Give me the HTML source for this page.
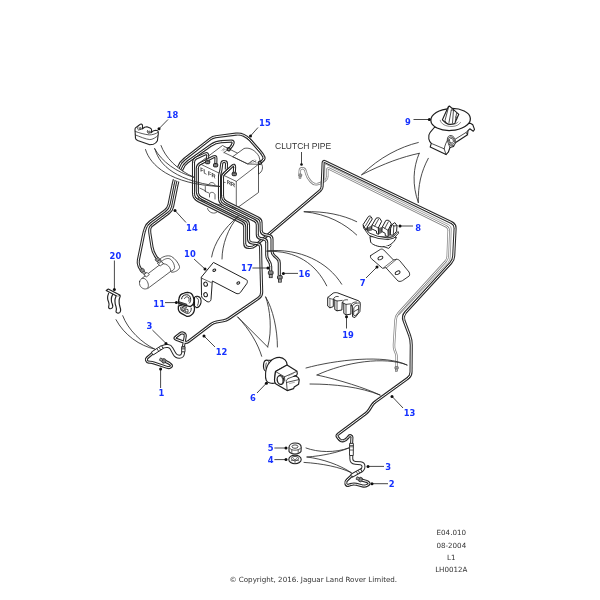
<!DOCTYPE html>
<html><head><meta charset="utf-8"><title>Brake pipes</title>
<style>
html,body{margin:0;padding:0;background:#fff}
svg{display:block;will-change:transform}
.n{font-family:"DejaVu Sans","Liberation Sans",sans-serif;font-weight:bold;font-size:8.35px;letter-spacing:0.12px;fill:#1430ff}
.f{font-family:"DejaVu Sans","Liberation Sans",sans-serif;font-size:7.14px;fill:#333}
.t{font-family:"Liberation Sans",sans-serif;font-size:5.6px;fill:#222;stroke:#222;stroke-width:0.12px}
.t2{font-family:"Liberation Sans",sans-serif;font-size:3.6px;fill:#444}
.c{font-family:"Liberation Sans",sans-serif;font-size:8.5px;fill:#333}
</style></head><body>
<svg width="600" height="600" viewBox="0 0 600 600">
<defs><filter id="sf" x="0" y="0" width="600" height="600" filterUnits="userSpaceOnUse"><feGaussianBlur stdDeviation="0.32"/></filter></defs>
<rect width="600" height="600" fill="#fff"/>
<g filter="url(#sf)">
<path d="M198.8 163.3 L222.5 145.5 L258.5 164 L258.5 192.5 L236.3 208.5 L198.8 200 Z" fill="#fff" stroke="#333" stroke-width="0.80" stroke-linecap="round" stroke-linejoin="round" />
<path d="M233 156.5 L244 148.5 C249 147 255.5 150 259 156.5 L260.3 161.5 L261.5 164 C263.5 167 262.5 172 258.5 174 L258.5 164.3 L248 164 Z" fill="#fff" stroke="#333" stroke-width="0.80" stroke-linecap="round" stroke-linejoin="round" />
<path d="M258.5 174 L258.5 164.3" fill="none" stroke="#333" stroke-width="0.75" stroke-linecap="round" stroke-linejoin="round" />
<path d="M224 152.5 L248 164 L252.5 160.5 L256 162.2" fill="none" stroke="#333" stroke-width="0.75" stroke-linecap="round" stroke-linejoin="round" />
<path d="M224 152.5 L227 150.3" fill="none" stroke="#333" stroke-width="0.75" stroke-linecap="round" stroke-linejoin="round" />
<path d="M198.8 163.3 L236.3 181.4 L258.5 164.3" fill="none" stroke="#333" stroke-width="0.75" stroke-linecap="round" stroke-linejoin="round" />
<path d="M236.3 181.4 L236.3 208.5" fill="none" stroke="#333" stroke-width="0.75" stroke-linecap="round" stroke-linejoin="round" />
<path d="M200 188.2 L205.3 190.7 M205.3 186.5 L205.3 191.5 M205.3 191.5 L209 193" fill="none" stroke="#333" stroke-width="0.75" stroke-linecap="round" stroke-linejoin="round" />
<path d="M209 184 C210 181.8 214 182 215 184.5" fill="none" stroke="#333" stroke-width="0.75" stroke-linecap="round" stroke-linejoin="round" />
<path d="M209.5 197 L209.5 194 C210.5 191.5 214 192 215 194.5 L215 199" fill="none" stroke="#333" stroke-width="0.75" stroke-linecap="round" stroke-linejoin="round" />
<path d="M207.5 208.5 C208.5 213 215 214.5 217 212" fill="none" stroke="#333" stroke-width="0.75" stroke-linecap="round" stroke-linejoin="round" />
<text class="t" transform="matrix(1,0.48,0,1,200.2,171.3)">FL FR</text>
<text class="t" transform="matrix(1,0.48,0,1,218.4,179.6)">RL RR</text>
<text class="t2" transform="matrix(0.87,-0.5,0.87,0.5,222.5,151.5)">MC1</text>
<text class="t2" transform="matrix(0.87,-0.5,0.87,0.5,250.3,164.3)">MC2</text>
<path d="M135.5 127.9 L139.3 125 C140.3 124.2 141 124 141.4 124.1 C142.2 124.3 142.5 125 142.5 125.6 L142.5 128.8 L144.6 127.3 L146.9 126.7 L150.1 127.9 C151.2 128.5 151.7 129.2 151.6 129.8 L151.3 132.6 L153 131.1 L155.7 130.2 C157 130.3 158 130.8 158.2 131.6 L158.3 133.8 L157.4 140.8 C156.5 142.5 155 143.8 153.3 144.3 L149.8 144.8 L137.6 140.5 C136.3 139.8 135.6 139 135.5 138.4 L135 129.7 C135 128.8 135.2 128.2 135.5 127.9 Z" fill="#fff" stroke="#222" stroke-width="1.10" stroke-linecap="round" stroke-linejoin="round" />
<path d="M135.2 131.4 C139 132.8 145 134.6 149.3 134.9 C152 135 156 133.8 158.1 132.3 M135.3 134.9 C139.5 136.5 146 139.3 149.8 139.6 C152.5 139.6 156 137.5 157.9 135.5" fill="none" stroke="#333" stroke-width="0.80" stroke-linecap="round" stroke-linejoin="round" />
<path d="M138 127 C137.3 128.3 137.5 129.3 138.5 130 L142.5 128.8 M147.5 130.5 C147 131.6 147.3 132.6 148.3 133.3 L151.3 132.6" fill="none" stroke="#222" stroke-width="0.80" stroke-linecap="round" stroke-linejoin="round" />
<ellipse cx="140.2" cy="128.3" rx="1.1" ry="0.8" fill="#999" stroke="#222" stroke-width="0.5"/><ellipse cx="149.3" cy="131.8" rx="1.1" ry="0.8" fill="#999" stroke="#222" stroke-width="0.5"/>
<path d="M160.5 258.5 C163 256.5 168 254.8 171.5 256.5 C175 258.5 178.5 263 179.5 266.5 C180 269 177 271 174.5 271.8 C172.5 272.5 171 272.2 170.5 271.5 L162 262 Z" fill="#fff" stroke="#333" stroke-width="0.80" stroke-linecap="round" stroke-linejoin="round" />
<path d="M162.5 260.6 C165 258.6 168.5 257.6 170.8 259.5 C173 261.5 174.5 264.5 174.6 267.5 C174.5 269.5 172.5 271 171 271.3" fill="none" stroke="#333" stroke-width="0.75" stroke-linecap="round" stroke-linejoin="round" />
<path d="M142 278.3 L160 264.6 C165 262 170.5 266 170.8 271.3 L148 288.3 Z" fill="#fff" stroke="#333" stroke-width="0.80" stroke-linecap="round" stroke-linejoin="round" />
<path d="M139.6 281.5 C140.3 278.3 143.5 277.3 145.8 279.5 C148.3 282 149.3 286.5 147.3 288.3 C145 290 141.3 288.3 140 285.5 C139.4 284 139.3 282.8 139.6 281.5 Z" fill="#fff" stroke="#333" stroke-width="0.80" stroke-linecap="round" stroke-linejoin="round" />
<path d="M144.3 274.5 L147 272.3 L149.3 274.6 L146.6 276.8 Z" fill="#fff" stroke="#333" stroke-width="0.80" stroke-linecap="round" stroke-linejoin="round" />
<path d="M157.5 262.8 L160.3 260.6 L163.3 263.6 L160.5 265.8 Z" fill="#fff" stroke="#333" stroke-width="0.80" stroke-linecap="round" stroke-linejoin="round" />
<path d="M106.2 290.5 L108.3 289.1 L120.2 295.3 L118 296.8 Z" fill="#fff" stroke="#222" stroke-width="1.15" stroke-linecap="round" stroke-linejoin="round" />
<path d="M108.6 293.4 C107.3 296.5 107.3 299.5 108.6 302 C109.6 304 109 305.8 108.6 307.2 C108.6 308.6 110.5 309.2 111.6 308.4 C113 307.4 113 305.8 112.3 304 C111 301 111 297.5 112.6 294.6" fill="#fff" stroke="#222" stroke-width="1.15" stroke-linecap="round" stroke-linejoin="round" />
<path d="M116 296.3 C114.6 299.5 114.8 303.5 116 306.5 C116.8 308.5 116.3 310.3 116 311.5 C116 313 118.3 313.6 119.6 312.6 C121 311.4 120.8 309.3 120 307 C118.8 303.5 118.8 299.5 120.2 296.3" fill="#fff" stroke="#222" stroke-width="1.15" stroke-linecap="round" stroke-linejoin="round" />
<path d="M213.8 262.6 L246.6 279.8 C247.6 280.5 247.6 282.5 246.8 283.6 L240.3 292.6 C239.3 293.8 237.3 294 236 293.3 L212.3 281 L211 299.5 C210.8 301.5 208.5 302.5 207 301.6 L202.6 298.3 C201.8 297.6 201.5 296.6 201.5 295.5 L201.3 277.6 Z" fill="#fff" stroke="#222" stroke-width="1.00" stroke-linecap="round" stroke-linejoin="round" />
<path d="M202.5 278.6 L211.3 282.6" fill="none" stroke="#333" stroke-width="0.75" stroke-linecap="round" stroke-linejoin="round" />
<path d="M201.3 277.6 L202.5 278.6" fill="none" stroke="#333" stroke-width="0.75" stroke-linecap="round" stroke-linejoin="round" />
<ellipse cx="214.3" cy="270.2" rx="1.5" ry="1.1" fill="#fff" stroke="#222" stroke-width="1.0" transform="rotate(-20 214.3 270.2)"/>
<ellipse cx="205.6" cy="284.2" rx="1.8" ry="2.1" fill="#fff" stroke="#222" stroke-width="1.0" transform="rotate(-20 205.6 284.2)"/>
<ellipse cx="205.6" cy="294.7" rx="1.8" ry="2.1" fill="#fff" stroke="#222" stroke-width="1.0" transform="rotate(-20 205.6 294.7)"/>
<ellipse cx="238.3" cy="283.0" rx="1.5" ry="1.1" fill="#fff" stroke="#222" stroke-width="1.0" transform="rotate(-20 238.3 283.0)"/>
<path d="M194.5 297.4 C195.5 296.5 196.8 296.2 197.7 296.4 C199.3 296.8 200.4 297.6 200.7 298.8 C201.2 300.3 201.2 301.8 200.9 303 C200.5 304.6 199.8 305.8 199 306.5 C198.3 307.2 197.3 307.6 196.5 307.6 L194.5 306.1 Z" fill="#fff" stroke="#1a1a1a" stroke-width="1.10" stroke-linecap="round" stroke-linejoin="round" />
<path d="M196.5 297.7 C198 298.3 198.6 299.6 198.5 300.8 C198.5 302.6 198.2 304.2 197.6 305.3" fill="none" stroke="#1a1a1a" stroke-width="0.80" stroke-linecap="round" stroke-linejoin="round" />
<path d="M178.4 306.1 C178.2 308 178.3 309.5 178.7 310.5 C179.3 311.8 180.2 312.8 181.3 313.4 L186.6 316.3 C188 316.6 189.6 316.3 190.7 315.5 C192.3 314.5 193.4 313.2 193.9 311.7 C194.4 310.3 194.6 309 194.5 307.6 L193.6 304.5 L186 303 Z" fill="#fff" stroke="#1a1a1a" stroke-width="1.30" stroke-linecap="round" stroke-linejoin="round" />
<path d="M180.75 307.2 C180.6 308.5 180.8 309.7 181.3 310.5 L186.6 313.4 C188 313.6 189.3 313.2 190.1 312.2 C190.9 311.2 191.3 309.8 191.25 308.2" fill="none" stroke="#1a1a1a" stroke-width="0.90" stroke-linecap="round" stroke-linejoin="round" />
<path d="M182 307.3 L184.2 308.1 L184.2 310.9 L182 310 Z M185.2 308.7 L188 309.6 L188 312.3 L185.2 311.6 Z" fill="#fff" stroke="#1a1a1a" stroke-width="0.8"/>
<path d="M179 298.5 C179.3 297 179.9 295.7 180.75 294.75 C181.6 293.9 182.6 293.4 183.7 293.3 C185 292.6 186.5 292.3 187.75 292.3 C189 292.4 190.3 292.8 191.25 293.6 C192.3 294.5 193 295.7 193.3 297.1 C193.8 298.5 194 300 193.9 301.2 C193.8 302.5 193.4 303.8 192.7 304.8 L190.5 306.6 L185 305.4 L178.6 303.2 C178.5 301.5 178.6 300 179 298.5 Z" fill="#fff" stroke="#1a1a1a" stroke-width="1.30" stroke-linecap="round" stroke-linejoin="round" />
<path d="M181.6 298.8 C181.8 297.6 182.3 296.6 183.1 295.9 C184.1 295.1 185.4 294.7 186.6 294.75 C187.8 294.8 188.8 295.2 189.5 295.9 C190.3 296.8 190.7 298 190.7 299.4 C190.7 300.8 190.3 302 189.5 303" fill="none" stroke="#1a1a1a" stroke-width="1.00" stroke-linecap="round" stroke-linejoin="round" />
<path d="M184.5 298.6 C184.9 297.6 185.7 297 186.6 296.8 C187.5 296.8 188.3 297.1 188.9 297.7 C189.2 298.9 189.2 300.1 188.9 301.2" fill="none" stroke="#1a1a1a" stroke-width="0.80" stroke-linecap="round" stroke-linejoin="round" />
<path d="M178.4 301.5 L186.8 304.2 L186.8 306 L178.7 303.3 Z" fill="#555" stroke="#1a1a1a" stroke-width="0.8" stroke-linejoin="round"/>
<path d="M178.6 304.8 L186.4 307.4" fill="none" stroke="#1a1a1a" stroke-width="0.90" stroke-linecap="round" stroke-linejoin="round" />
<path d="M263.6 364 C264 361.5 265.5 360 267.3 360.2 L272.8 360.3 L273 371 L267.2 371.8 C265.3 371.8 263.6 369.5 263.5 366.5 Z" fill="#fff" stroke="#1f1f1f" stroke-width="1.20" stroke-linecap="round" stroke-linejoin="round" />
<path d="M267.3 360.2 C269 361.5 269.6 364 269.5 366.3 C269.4 368.5 268.6 370.8 267.2 371.8 M266.3 363 C265.6 364.5 265.6 367.5 266.3 369" fill="none" stroke="#1f1f1f" stroke-width="0.80" stroke-linecap="round" stroke-linejoin="round" />
<path d="M265.6 373 C266.3 364 272 357.3 279.5 357.4 C284 357.6 287.2 361.3 287.2 365 L275.5 371.5 L274.5 380 L275.5 383 C272 383.8 267.5 383.2 266.3 380.5 C265.4 378.5 265.4 375.5 265.6 373 Z" fill="#fff" stroke="#1f1f1f" stroke-width="1.10" stroke-linecap="round" stroke-linejoin="round" />
<path d="M275.5 371.5 L287 365 L297 371.3 C297.5 373 297.3 374.5 296.5 375.3 L293.5 376.5 L295.5 376 C297 376.5 299 378.5 299.2 380 L298.6 384.2 L294.2 387 L293.6 388.6 L287.2 390.6 L276 384 C275 383 274.3 381 274.5 379.5 Z" fill="#fff" stroke="#1f1f1f" stroke-width="1.20" stroke-linecap="round" stroke-linejoin="round" />
<path d="M275.5 371.5 L284.5 376.8 L296.5 371.5 M284.5 376.8 L284.8 380.5 M288 378.6 L296.5 375.3 M288 378.6 C286.5 379.5 286 381 286.5 382.5 L287.2 390.6 M286.5 382.5 L298.8 379.6" fill="none" stroke="#1f1f1f" stroke-width="0.80" stroke-linecap="round" stroke-linejoin="round" />
<path d="M288.5 375.8 L293.5 373.6 M289.5 383.6 L294.5 382.3" fill="none" stroke="#777" stroke-width="0.60" stroke-linecap="round" stroke-linejoin="round" />
<ellipse cx="280.5" cy="380" rx="3.3" ry="4.4" fill="#fff" stroke="#1f1f1f" stroke-width="1.3" transform="rotate(-12 280.5 380)"/>
<path d="M281.3 376.6 C283 378 283.5 381.5 282.3 383.6" fill="none" stroke="#1f1f1f" stroke-width="0.80" stroke-linecap="round" stroke-linejoin="round" />
<path d="M328 297.3 L333.2 293.1 C334.5 292.5 336 292.5 337.4 292.8 L358 300.6 C359.6 301.3 360.4 302.3 360.3 303.6 L359.9 311.5 L355 317.5 L352.6 316.8 L352.3 306 L350.9 305.3 L350.9 314.1 L346 314.9 L343.8 313.4 L343.8 303.3 L342.2 302.6 L341.9 310 L337 310.8 L334.8 309.6 L334.8 300 L333.3 299.3 L333.3 306.6 L329.9 307.8 L328 306.3 Z" fill="#fff" stroke="#222" stroke-width="1.00" stroke-linecap="round" stroke-linejoin="round" />
<path d="M329.9 298.6 L329.9 307.8 M328 297.3 L329.9 298.6 L333.3 299.3" fill="none" stroke="#333" stroke-width="0.70" stroke-linecap="round" stroke-linejoin="round" />
<path d="M333.3 299.3 C334 296.8 336.3 296 338.3 296.5 M334.8 300 L337 301 L342.2 300.4 M337 301 L337 310.8 M342.2 302.6 C343 300 345.5 299.3 347.6 299.8 M343.8 303.3 L346 304.4 L350.9 303.8 M346 304.4 L346 314.9 M350.9 305.3 C351.6 302.8 354 301.8 356.5 302" fill="none" stroke="#222" stroke-width="0.80" stroke-linecap="round" stroke-linejoin="round" />
<path d="M352.3 306 C353.3 303.5 356.5 302.8 359.5 303 M354 307.6 C355 305.8 357 305 358.6 305.3 L358.3 312.3 L355.2 315.8 L354 315.3 Z M354 311.6 L358.5 309" fill="none" stroke="#222" stroke-width="0.80" stroke-linecap="round" stroke-linejoin="round" />
<path d="M370 237 L370.7 242.2 C372 244.5 378 247 383 246.8 C389 246.6 394 243 396.3 237.7 Z" fill="#fff" stroke="#1f1f1f" stroke-width="1.00" stroke-linecap="round" stroke-linejoin="round" />
<path d="M383.6 246.6 L388.7 248.4 L391 245.8" fill="#fff" stroke="#1f1f1f" stroke-width="0.90" stroke-linecap="round" stroke-linejoin="round" />
<path d="M363.4 225.5 L369.2 233 L377.5 236.2 L388 238 L393.5 236.5 L398 231.5 L398.6 233.2 L394 238 L388 239.6 L378 238.4 L369 235.4 L363.8 228.3 Z" fill="#fff" stroke="#1f1f1f" stroke-width="0.90" stroke-linecap="round" stroke-linejoin="round" />
<path d="M366 228.5 L372.3 225 L372 230.5 L367.8 231.5 Z M378.2 228 L382.4 226.9 L382.2 232.5 L378.6 234.5 Z M388 230.3 L392.1 224.6 L390.4 235.2 L388.2 236.6 Z" fill="#6a6a6a" stroke="none"/>
<path d="M363.3 224.3 L368.5 216.4 C369.5 215.8 370.5 216 371.1 216.7 L372.3 219 L367.4 226.9 L366.2 229.8 Z" fill="#fff" stroke="#1f1f1f" stroke-width="1.00" stroke-linecap="round" stroke-linejoin="round" />
<path d="M365.6 225.6 L370.3 217.6 M367.4 226.9 L367.8 231" fill="none" stroke="#1f1f1f" stroke-width="0.80" stroke-linecap="round" stroke-linejoin="round" />
<path d="M372.2 225 L376 218.3 C377.5 217.6 378.8 217.7 379.8 218.3 L381.6 221.3 L378.3 228 L378.6 234.3 L376.7 233.6 L376.4 231 L372 229 Z" fill="#fff" stroke="#1f1f1f" stroke-width="1.00" stroke-linecap="round" stroke-linejoin="round" />
<path d="M372.2 225 L378.3 228 M374.6 226.2 L378.5 219.3" fill="none" stroke="#1f1f1f" stroke-width="0.80" stroke-linecap="round" stroke-linejoin="round" />
<path d="M382.4 226.9 L385.8 220.5 C387.3 220 388.6 220.2 389.5 220.9 L391.4 223.9 L388 230.3 L388.2 236.5 L385.3 235.8 L385.2 233.3 L382.2 231.6 Z" fill="#fff" stroke="#1f1f1f" stroke-width="1.00" stroke-linecap="round" stroke-linejoin="round" />
<path d="M382.4 226.9 L388 230.3 M384.8 228.3 L388.3 221.8" fill="none" stroke="#1f1f1f" stroke-width="0.80" stroke-linecap="round" stroke-linejoin="round" />
<path d="M392.1 224.6 L394.8 222.6 L397 225.6 L396.6 231.2 L393.3 235.2 L390.3 235 L390.6 229 Z" fill="#fff" stroke="#1f1f1f" stroke-width="1.00" stroke-linecap="round" stroke-linejoin="round" />
<path d="M393.8 226 L393.3 235.2 M393.8 226 L392.1 224.6 M393.8 226 L397 225.6" fill="none" stroke="#1f1f1f" stroke-width="0.80" stroke-linecap="round" stroke-linejoin="round" />
<path d="M370.7 255.5 L380.5 249.3 C381.8 248.8 383 249.2 383.8 250 L393.5 260 L396.5 259.3 C398 259.3 399.3 260 400 261 L409 272 C409.8 273.5 409.8 275 409.2 276 L402.5 280.6 C401 281.6 399 281.6 398 281 L385.8 267.6 L382.5 268.3 L371.3 258.6 C370.3 257.6 370.2 256.3 370.7 255.5 Z" fill="#fff" stroke="#222" stroke-width="0.90" stroke-linecap="round" stroke-linejoin="round" />
<path d="M393.5 260 L383.8 267.6 M396.5 259.3 L386.2 268" fill="none" stroke="#333" stroke-width="0.70" stroke-linecap="round" stroke-linejoin="round" />
<ellipse cx="380.4" cy="258" rx="2.6" ry="1.5" fill="#fff" stroke="#222" stroke-width="0.9" transform="rotate(-28 380.4 258)"/>
<ellipse cx="397.6" cy="272.7" rx="2.6" ry="1.5" fill="#fff" stroke="#222" stroke-width="0.9" transform="rotate(-28 397.6 272.7)"/>
<path d="M434.3 127.5 L430.2 132.3 C428.6 134.5 428.3 137 428.8 138.8 C429.3 141 430.3 142.5 431.3 143.4 L430.2 147 L446 154.6 L448.3 152.2 L450 147.5 L453.5 146.4 L455.3 142.8 L467.5 134.8 L468 130.6 L469.8 128.8 L473.3 131.2 L474.5 129.4 L472.8 124.8 L470.4 123.2 Z" fill="#fff" stroke="#1f1f1f" stroke-width="1.10" stroke-linecap="round" stroke-linejoin="round" />
<path d="M431.3 143.4 L444.2 148.8 L446 154.6 M444.2 148.8 C445 145 446.5 141 449 138 M450 147.5 L448.5 144 M467.5 134.8 L466 132.5 L468 130.6 M466 132.5 L455.5 139" fill="none" stroke="#222" stroke-width="0.80" stroke-linecap="round" stroke-linejoin="round" />
<ellipse cx="451.4" cy="140.6" rx="3.9" ry="5.3" fill="#fff" stroke="#222" stroke-width="0.7" transform="rotate(-20 451.4 140.6)"/>
<ellipse cx="451.4" cy="140.6" rx="2.9" ry="3.9" fill="#fff" stroke="#222" stroke-width="0.7" transform="rotate(-20 451.4 140.6)"/>
<ellipse cx="451.4" cy="140.6" rx="1.9" ry="2.5" fill="#fff" stroke="#222" stroke-width="0.7" transform="rotate(-20 451.4 140.6)"/>
<ellipse cx="450.6" cy="119.5" rx="19.8" ry="11" fill="#fff" stroke="#1f1f1f" stroke-width="1.25" transform="rotate(-3 450.6 119.5)"/>
<path d="M440.2 120.3 C441 124 445.5 126.5 452 126.5 C456.5 126.3 459.5 124.5 460.5 122.5 M443 120.6 C444 123 447.5 124.6 452 124.5 C455 124.3 457 123.3 458 122" fill="none" stroke="#333" stroke-width="0.60" stroke-linecap="round" stroke-linejoin="round" />
<path d="M442.4 119.8 L448.3 106.8 L449.4 106 L453.5 109.6 L458.8 114.3 L457 118.3 L454.7 123.6 C452 124.5 448 124.3 446.5 123.3 Z" fill="#fff" stroke="#1f1f1f" stroke-width="1.10" stroke-linecap="round" stroke-linejoin="round" />
<path d="M448.5 107.3 L445 120.5 L446.5 123.3 M451.3 110 L449 122.5 M453.5 110 L452.5 123 M456.5 113.5 L455.3 121.5 M451.3 110 L453.5 110 M457 118.3 L455.5 117" fill="none" stroke="#222" stroke-width="0.80" stroke-linecap="round" stroke-linejoin="round" />
<path d="M289 447.5 C289 444.5 292 443 295 443 C298.5 443 301.2 444.5 301.2 447.5 L301 451.5 C300 453 297.5 454 295 454 C292.5 454 290 453 289 451.5 Z" fill="#fff" stroke="#222" stroke-width="1.10" stroke-linecap="round" stroke-linejoin="round" />
<path d="M289.2 447.8 C290.5 449.6 292.5 450.2 295 450.2 C297.5 450.2 299.8 449.6 301 447.8 M291.8 449.8 L291.8 453.3 M298.2 449.8 L298.2 453.3" fill="none" stroke="#333" stroke-width="0.80" stroke-linecap="round" stroke-linejoin="round" />
<ellipse cx="295" cy="446.6" rx="3" ry="1.7" fill="#fff" stroke="#222" stroke-width="0.8"/>
<ellipse cx="295" cy="459.4" rx="6.2" ry="4.3" fill="#fff" stroke="#222" stroke-width="1.1"/>
<ellipse cx="295" cy="458.6" rx="3.6" ry="2.2" fill="#fff" stroke="#222" stroke-width="0.8"/>
<path d="M293.3 458.6 a1.7 1 0 1 0 3.4 0 M291 461 L292.5 460 M299 461 L297.5 460 M295 462.8 L295 461.2" fill="none" stroke="#333" stroke-width="0.70" stroke-linecap="round" stroke-linejoin="round" />
<path d="M299.60 174.00 L299.86 170.30 Q300.00 168.30 302.00 168.30 L302.40 168.30 Q304.80 168.30 305.44 170.61 L306.43 174.15 Q307.50 178.00 310.22 180.93 L311.36 182.16 Q314.00 185.00 317.75 184.00 L318.60 183.77 Q321.50 183.00 323.97 181.30 L325.24 180.42 Q327.30 179.00 327.30 176.50 L327.30 169.79 Q327.30 167.79 329.09 168.67 L446.09 226.26 Q448.78 227.59 448.67 230.59 L447.72 256.18 Q447.61 259.17 445.59 261.39 L398.49 313.04 Q395.80 316.00 395.55 319.99 L393.99 345.01 Q393.80 348.00 394.91 350.79 L395.86 353.14 Q396.60 355.00 396.60 357.00 L396.60 367.00" fill="none" stroke="#858585" stroke-width="2.50" stroke-linecap="butt" stroke-linejoin="round"/>
<path d="M299.60 174.00 L299.86 170.30 Q300.00 168.30 302.00 168.30 L302.40 168.30 Q304.80 168.30 305.44 170.61 L306.43 174.15 Q307.50 178.00 310.22 180.93 L311.36 182.16 Q314.00 185.00 317.75 184.00 L318.60 183.77 Q321.50 183.00 323.97 181.30 L325.24 180.42 Q327.30 179.00 327.30 176.50 L327.30 169.79 Q327.30 167.79 329.09 168.67 L446.09 226.26 Q448.78 227.59 448.67 230.59 L447.72 256.18 Q447.61 259.17 445.59 261.39 L398.49 313.04 Q395.80 316.00 395.55 319.99 L393.99 345.01 Q393.80 348.00 394.91 350.79 L395.86 353.14 Q396.60 355.00 396.60 357.00 L396.60 367.00" fill="none" stroke="#fff" stroke-width="1.00" stroke-linecap="butt" stroke-linejoin="round"/>
<path d="M324.75 179.00 L324.75 165.69 Q324.75 163.69 326.54 164.57 L448.70 224.71 Q451.39 226.03 451.28 229.03 L450.24 257.22 Q450.12 260.21 448.08 262.41 L399.50 314.50" fill="none" stroke="#858585" stroke-width="0.75" stroke-linecap="round" stroke-linejoin="round" />
<path d="M260.00 163.00 L262.92 160.45 Q264.80 158.80 263.63 156.59 L263.40 156.15 Q262.00 153.50 260.02 151.25 L250.22 140.09 Q247.50 137.00 243.75 135.30 L243.75 135.30 Q240.00 133.60 235.92 134.12 L215.78 136.68 Q212.80 137.06 210.43 138.90 L184.30 159.24 Q180.35 162.31 178.68 167.02 L175.25 176.71 Q173.92 180.48 173.12 184.40 L169.04 204.46 Q168.24 208.38 165.03 210.77 L149.90 222.03 Q146.88 224.27 145.54 227.79 L145.54 227.79 Q144.20 231.30 143.46 234.99 L138.39 260.10 Q137.80 263.00 138.90 265.75 L139.26 266.64 Q140.00 268.50 141.41 269.91 L143.00 271.50" fill="none" stroke="#2a2a2a" stroke-width="3.10" stroke-linecap="butt" stroke-linejoin="round"/>
<path d="M260.00 163.00 L262.92 160.45 Q264.80 158.80 263.63 156.59 L263.40 156.15 Q262.00 153.50 260.02 151.25 L250.22 140.09 Q247.50 137.00 243.75 135.30 L243.75 135.30 Q240.00 133.60 235.92 134.12 L215.78 136.68 Q212.80 137.06 210.43 138.90 L184.30 159.24 Q180.35 162.31 178.68 167.02 L175.25 176.71 Q173.92 180.48 173.12 184.40 L169.04 204.46 Q168.24 208.38 165.03 210.77 L149.90 222.03 Q146.88 224.27 145.54 227.79 L145.54 227.79 Q144.20 231.30 143.46 234.99 L138.39 260.10 Q137.80 263.00 138.90 265.75 L139.26 266.64 Q140.00 268.50 141.41 269.91 L143.00 271.50" fill="none" stroke="#fff" stroke-width="1.00" stroke-linecap="butt" stroke-linejoin="round"/>
<path d="M229.00 149.30 L230.74 147.29 Q232.30 145.50 233.05 143.25 L233.05 143.25 Q233.80 141.00 231.43 141.13 L221.49 141.67 Q215.50 142.00 210.61 145.48 L187.72 161.79 Q183.65 164.69 181.98 169.40 L179.02 177.75 Q177.68 181.52 176.89 185.44 L172.56 206.70 Q171.76 210.62 168.55 213.01 L151.85 225.44 Q150.12 226.73 149.81 228.86 L149.81 228.86 Q149.50 231.00 149.84 233.13 L152.02 247.06 Q152.80 252.00 155.58 256.15 L158.50 260.50" fill="none" stroke="#2a2a2a" stroke-width="3.10" stroke-linecap="butt" stroke-linejoin="round"/>
<path d="M229.00 149.30 L230.74 147.29 Q232.30 145.50 233.05 143.25 L233.05 143.25 Q233.80 141.00 231.43 141.13 L221.49 141.67 Q215.50 142.00 210.61 145.48 L187.72 161.79 Q183.65 164.69 181.98 169.40 L179.02 177.75 Q177.68 181.52 176.89 185.44 L172.56 206.70 Q171.76 210.62 168.55 213.01 L151.85 225.44 Q150.12 226.73 149.81 228.86 L149.81 228.86 Q149.50 231.00 149.84 233.13 L152.02 247.06 Q152.80 252.00 155.58 256.15 L158.50 260.50" fill="none" stroke="#fff" stroke-width="1.00" stroke-linecap="butt" stroke-linejoin="round"/>
<g transform="translate(141.30 269.30) rotate(52.0) scale(0.75)"><rect x="0" y="-2.6" width="4" height="5.2" rx="1" fill="#ccc" stroke="#222" stroke-width="1"/><path d="M1.3 -2.6V2.6M2.7 -2.6V2.6" stroke="#222" stroke-width="0.6"/><rect x="4" y="-1.6" width="3.4" height="3.2" fill="#fff" stroke="#222" stroke-width="0.9"/><path d="M5.2 -1.6V1.6M6.3 -1.6V1.6" stroke="#222" stroke-width="0.5"/></g>
<g transform="translate(156.50 258.30) rotate(50.0) scale(0.75)"><rect x="0" y="-2.6" width="4" height="5.2" rx="1" fill="#ccc" stroke="#222" stroke-width="1"/><path d="M1.3 -2.6V2.6M2.7 -2.6V2.6" stroke="#222" stroke-width="0.6"/><rect x="4" y="-1.6" width="3.4" height="3.2" fill="#fff" stroke="#222" stroke-width="0.9"/><path d="M5.2 -1.6V1.6M6.3 -1.6V1.6" stroke="#222" stroke-width="0.5"/></g>
<path d="M207.60 161.50 L207.67 155.30 Q207.70 152.80 205.43 153.84 L196.23 158.05 Q193.50 159.30 193.50 162.30 L193.50 193.25 Q193.50 198.25 197.97 200.49 L242.02 222.51 Q244.70 223.85 244.70 226.85 L244.70 243.50 Q244.70 247.50 248.70 247.50 L250.00 247.50 Q253.00 247.50 255.29 245.56 L320.09 190.62 Q322.00 189.00 322.11 186.50 L323.11 162.80 Q323.20 160.80 325.00 161.67 L451.70 222.66 Q455.30 224.40 455.10 228.39 L453.70 256.01 Q453.50 260.00 450.80 262.95 L405.67 312.31 Q402.30 316.00 404.06 320.68 L409.54 335.32 Q411.30 340.00 411.26 345.00 L411.03 372.00 Q411.00 376.00 407.76 378.35 L375.32 401.83 Q373.30 403.30 371.96 405.41 L369.14 409.89 Q367.80 412.00 365.80 413.50 L337.96 434.28 Q336.20 435.60 337.62 437.28 L339.39 439.39 Q341.00 441.30 343.42 440.67 L343.58 440.63 Q346.00 440.00 347.54 438.03 L348.82 436.40 Q349.60 435.40 350.80 435.80 L350.80 435.80 Q352.00 436.20 351.93 437.46 L351.60 443.50" fill="none" stroke="#2a2a2a" stroke-width="3.10" stroke-linecap="butt" stroke-linejoin="round"/>
<path d="M207.60 161.50 L207.67 155.30 Q207.70 152.80 205.43 153.84 L196.23 158.05 Q193.50 159.30 193.50 162.30 L193.50 193.25 Q193.50 198.25 197.97 200.49 L242.02 222.51 Q244.70 223.85 244.70 226.85 L244.70 243.50 Q244.70 247.50 248.70 247.50 L250.00 247.50 Q253.00 247.50 255.29 245.56 L320.09 190.62 Q322.00 189.00 322.11 186.50 L323.11 162.80 Q323.20 160.80 325.00 161.67 L451.70 222.66 Q455.30 224.40 455.10 228.39 L453.70 256.01 Q453.50 260.00 450.80 262.95 L405.67 312.31 Q402.30 316.00 404.06 320.68 L409.54 335.32 Q411.30 340.00 411.26 345.00 L411.03 372.00 Q411.00 376.00 407.76 378.35 L375.32 401.83 Q373.30 403.30 371.96 405.41 L369.14 409.89 Q367.80 412.00 365.80 413.50 L337.96 434.28 Q336.20 435.60 337.62 437.28 L339.39 439.39 Q341.00 441.30 343.42 440.67 L343.58 440.63 Q346.00 440.00 347.54 438.03 L348.82 436.40 Q349.60 435.40 350.80 435.80 L350.80 435.80 Q352.00 436.20 351.93 437.46 L351.60 443.50" fill="none" stroke="#fff" stroke-width="1.00" stroke-linecap="butt" stroke-linejoin="round"/>
<path d="M215.80 164.00 L215.93 158.50 Q216.00 155.50 213.34 156.88 L199.96 163.82 Q197.30 165.20 197.30 168.20 L197.30 191.00 Q197.30 196.00 201.77 198.24 L245.82 220.26 Q248.50 221.60 248.50 224.60 L248.50 239.00 Q248.50 242.50 251.97 242.93 L257.52 243.63 Q260.50 244.00 260.56 247.00 L260.84 261.00 Q260.90 264.00 260.98 267.00 L261.69 292.00 Q261.80 296.00 258.50 298.26 L228.78 318.61 Q226.30 320.30 223.34 320.81 L216.46 321.99 Q213.50 322.50 211.11 324.31 L188.49 341.49 Q186.50 343.00 184.14 342.17 L176.16 339.33 Q173.80 338.50 175.79 336.99 L180.36 333.54 Q182.00 332.30 183.80 333.30 L183.80 333.30 Q185.60 334.30 185.24 336.33 L183.40 346.80" fill="none" stroke="#2a2a2a" stroke-width="3.10" stroke-linecap="butt" stroke-linejoin="round"/>
<path d="M215.80 164.00 L215.93 158.50 Q216.00 155.50 213.34 156.88 L199.96 163.82 Q197.30 165.20 197.30 168.20 L197.30 191.00 Q197.30 196.00 201.77 198.24 L245.82 220.26 Q248.50 221.60 248.50 224.60 L248.50 239.00 Q248.50 242.50 251.97 242.93 L257.52 243.63 Q260.50 244.00 260.56 247.00 L260.84 261.00 Q260.90 264.00 260.98 267.00 L261.69 292.00 Q261.80 296.00 258.50 298.26 L228.78 318.61 Q226.30 320.30 223.34 320.81 L216.46 321.99 Q213.50 322.50 211.11 324.31 L188.49 341.49 Q186.50 343.00 184.14 342.17 L176.16 339.33 Q173.80 338.50 175.79 336.99 L180.36 333.54 Q182.00 332.30 183.80 333.30 L183.80 333.30 Q185.60 334.30 185.24 336.33 L183.40 346.80" fill="none" stroke="#fff" stroke-width="1.00" stroke-linecap="butt" stroke-linejoin="round"/>
<path d="M226.30 169.50 L226.52 163.80 Q226.60 161.60 224.40 161.46 L224.20 161.44 Q222.00 161.30 221.73 163.48 L221.05 169.02 Q220.80 171.00 220.18 172.90 L220.12 173.10 Q219.50 175.00 219.50 177.00 L219.50 197.95 Q219.50 202.95 223.97 205.19 L254.62 220.51 Q257.30 221.85 257.30 224.85 L257.30 234.50 Q257.30 238.00 260.76 238.55 L263.74 239.03 Q266.70 239.50 266.70 242.50 L266.70 255.00 Q266.70 258.00 268.46 260.43 L268.94 261.07 Q270.70 263.50 270.70 266.50 L270.70 271.00" fill="none" stroke="#2a2a2a" stroke-width="3.10" stroke-linecap="butt" stroke-linejoin="round"/>
<path d="M226.30 169.50 L226.52 163.80 Q226.60 161.60 224.40 161.46 L224.20 161.44 Q222.00 161.30 221.73 163.48 L221.05 169.02 Q220.80 171.00 220.18 172.90 L220.12 173.10 Q219.50 175.00 219.50 177.00 L219.50 197.95 Q219.50 202.95 223.97 205.19 L254.62 220.51 Q257.30 221.85 257.30 224.85 L257.30 234.50 Q257.30 238.00 260.76 238.55 L263.74 239.03 Q266.70 239.50 266.70 242.50 L266.70 255.00 Q266.70 258.00 268.46 260.43 L268.94 261.07 Q270.70 263.50 270.70 266.50 L270.70 271.00" fill="none" stroke="#fff" stroke-width="1.00" stroke-linecap="butt" stroke-linejoin="round"/>
<path d="M234.30 173.00 L234.61 167.29 Q234.80 163.80 232.22 166.17 L223.97 173.75 Q222.50 175.10 222.50 177.10 L222.50 195.25 Q222.50 200.25 226.97 202.49 L258.32 218.16 Q261.00 219.50 261.06 222.50 L261.23 230.50 Q261.30 234.00 264.74 234.64 L269.05 235.45 Q272.00 236.00 272.00 239.00 L272.00 251.00 Q272.00 254.00 274.32 255.90 L276.98 258.10 Q279.30 260.00 279.30 263.00 L279.30 275.00" fill="none" stroke="#2a2a2a" stroke-width="3.10" stroke-linecap="butt" stroke-linejoin="round"/>
<path d="M234.30 173.00 L234.61 167.29 Q234.80 163.80 232.22 166.17 L223.97 173.75 Q222.50 175.10 222.50 177.10 L222.50 195.25 Q222.50 200.25 226.97 202.49 L258.32 218.16 Q261.00 219.50 261.06 222.50 L261.23 230.50 Q261.30 234.00 264.74 234.64 L269.05 235.45 Q272.00 236.00 272.00 239.00 L272.00 251.00 Q272.00 254.00 274.32 255.90 L276.98 258.10 Q279.30 260.00 279.30 263.00 L279.30 275.00" fill="none" stroke="#fff" stroke-width="1.00" stroke-linecap="butt" stroke-linejoin="round"/>
<path d="M183.30 351.50 L182.99 353.58 Q182.50 356.80 179.25 356.70 L179.25 356.70 Q176.00 356.60 174.43 353.76 L171.47 348.41 Q170.30 346.30 167.90 346.05 L167.49 346.01 Q165.50 345.80 163.64 346.54 L162.00 347.20" fill="none" stroke="#2a2a2a" stroke-width="3.90" stroke-linecap="butt" stroke-linejoin="round"/>
<path d="M183.30 351.50 L182.99 353.58 Q182.50 356.80 179.25 356.70 L179.25 356.70 Q176.00 356.60 174.43 353.76 L171.47 348.41 Q170.30 346.30 167.90 346.05 L167.49 346.01 Q165.50 345.80 163.64 346.54 L162.00 347.20" fill="none" stroke="#fff" stroke-width="1.90" stroke-linecap="butt" stroke-linejoin="round"/>
<g transform="translate(183.40 346.60) rotate(91.1)"><rect x="0" y="-1.70" width="5.20" height="3.40" fill="#fff" stroke="#222" stroke-width="0.9"/><path d="M1.30 -1.70V1.70" stroke="#222" stroke-width="0.7"/><path d="M2.34 -1.70V1.70" stroke="#222" stroke-width="0.7"/></g>
<g transform="translate(162.30 347.00) rotate(147.0)"><rect x="0" y="-1.70" width="11.93" height="3.40" fill="#fff" stroke="#222" stroke-width="0.9"/><path d="M2.98 -1.70V1.70" stroke="#222" stroke-width="0.7"/><path d="M5.37 -1.70V1.70" stroke="#222" stroke-width="0.7"/></g>
<path d="M152.50 353.40 L147.29 357.73 Q146.00 358.80 146.50 360.40 L146.50 360.40 Q147.00 362.00 148.67 362.10 L150.00 362.18 Q152.00 362.30 153.90 362.94 L167.17 367.39 Q169.00 368.00 170.65 367.00 L170.65 367.00 Q172.30 366.00 170.87 364.70 L170.48 364.35 Q169.00 363.00 167.16 362.22 L165.00 361.30" fill="none" stroke="#2a2a2a" stroke-width="3.10" stroke-linecap="butt" stroke-linejoin="round"/>
<path d="M152.50 353.40 L147.29 357.73 Q146.00 358.80 146.50 360.40 L146.50 360.40 Q147.00 362.00 148.67 362.10 L150.00 362.18 Q152.00 362.30 153.90 362.94 L167.17 367.39 Q169.00 368.00 170.65 367.00 L170.65 367.00 Q172.30 366.00 170.87 364.70 L170.48 364.35 Q169.00 363.00 167.16 362.22 L165.00 361.30" fill="none" stroke="#fff" stroke-width="1.00" stroke-linecap="butt" stroke-linejoin="round"/>
<g transform="translate(165.30 361.60) rotate(205.0) scale(0.80)"><rect x="0" y="-2.6" width="4" height="5.2" rx="1" fill="#ccc" stroke="#222" stroke-width="1"/><path d="M1.3 -2.6V2.6M2.7 -2.6V2.6" stroke="#222" stroke-width="0.6"/><rect x="4" y="-1.6" width="3.4" height="3.2" fill="#fff" stroke="#222" stroke-width="0.9"/><path d="M5.2 -1.6V1.6M6.3 -1.6V1.6" stroke="#222" stroke-width="0.5"/></g>
<path d="M351.30 455.50 L351.30 458.50 Q351.30 462.50 355.29 462.83 L360.51 463.25 Q363.50 463.50 363.50 466.50 L363.50 466.50 Q363.50 469.50 360.82 470.84 L360.50 471.00" fill="none" stroke="#2a2a2a" stroke-width="3.90" stroke-linecap="butt" stroke-linejoin="round"/>
<path d="M351.30 455.50 L351.30 458.50 Q351.30 462.50 355.29 462.83 L360.51 463.25 Q363.50 463.50 363.50 466.50 L363.50 466.50 Q363.50 469.50 360.82 470.84 L360.50 471.00" fill="none" stroke="#fff" stroke-width="1.90" stroke-linecap="butt" stroke-linejoin="round"/>
<g transform="translate(351.50 443.40) rotate(90.5)"><rect x="0" y="-1.90" width="12.10" height="3.80" fill="#fff" stroke="#222" stroke-width="0.9"/><path d="M2.06 -1.90V1.90" stroke="#222" stroke-width="0.7"/><path d="M3.39 -1.90V1.90" stroke="#222" stroke-width="0.7"/><path d="M6.66 -1.90V1.90" stroke="#222" stroke-width="0.7"/></g>
<g transform="translate(361.30 470.30) rotate(150.6)"><rect x="0" y="-1.70" width="11.01" height="3.40" fill="#fff" stroke="#222" stroke-width="0.9"/><path d="M2.75 -1.70V1.70" stroke="#222" stroke-width="0.7"/><path d="M4.96 -1.70V1.70" stroke="#222" stroke-width="0.7"/></g>
<path d="M351.70 475.70 L346.98 480.05 Q345.30 481.60 345.90 483.80 L345.90 483.80 Q346.50 486.00 348.66 485.26 L350.66 484.57 Q353.50 483.60 356.41 484.33 L362.58 485.89 Q365.00 486.50 367.19 485.29 L368.34 484.65 Q369.50 484.00 368.75 482.90 L368.75 482.90 Q368.00 481.80 366.72 481.44 L361.50 480.00" fill="none" stroke="#2a2a2a" stroke-width="3.10" stroke-linecap="butt" stroke-linejoin="round"/>
<path d="M351.70 475.70 L346.98 480.05 Q345.30 481.60 345.90 483.80 L345.90 483.80 Q346.50 486.00 348.66 485.26 L350.66 484.57 Q353.50 483.60 356.41 484.33 L362.58 485.89 Q365.00 486.50 367.19 485.29 L368.34 484.65 Q369.50 484.00 368.75 482.90 L368.75 482.90 Q368.00 481.80 366.72 481.44 L361.50 480.00" fill="none" stroke="#fff" stroke-width="1.00" stroke-linecap="butt" stroke-linejoin="round"/>
<g transform="translate(362.00 480.20) rotate(202.0) scale(0.80)"><rect x="0" y="-2.6" width="4" height="5.2" rx="1" fill="#ccc" stroke="#222" stroke-width="1"/><path d="M1.3 -2.6V2.6M2.7 -2.6V2.6" stroke="#222" stroke-width="0.6"/><rect x="4" y="-1.6" width="3.4" height="3.2" fill="#fff" stroke="#222" stroke-width="0.9"/><path d="M5.2 -1.6V1.6M6.3 -1.6V1.6" stroke="#222" stroke-width="0.5"/></g>
<g transform="translate(270.75 271.00) rotate(90.0) scale(0.90)"><rect x="0" y="-2.6" width="4" height="5.2" rx="1" fill="#ccc" stroke="#222" stroke-width="1"/><path d="M1.3 -2.6V2.6M2.7 -2.6V2.6" stroke="#222" stroke-width="0.6"/><rect x="4" y="-1.6" width="3.4" height="3.2" fill="#fff" stroke="#222" stroke-width="0.9"/><path d="M5.2 -1.6V1.6M6.3 -1.6V1.6" stroke="#222" stroke-width="0.5"/></g>
<g transform="translate(279.85 275.50) rotate(90.0) scale(0.90)"><rect x="0" y="-2.6" width="4" height="5.2" rx="1" fill="#ccc" stroke="#222" stroke-width="1"/><path d="M1.3 -2.6V2.6M2.7 -2.6V2.6" stroke="#222" stroke-width="0.6"/><rect x="4" y="-1.6" width="3.4" height="3.2" fill="#fff" stroke="#222" stroke-width="0.9"/><path d="M5.2 -1.6V1.6M6.3 -1.6V1.6" stroke="#222" stroke-width="0.5"/></g>
<g transform="translate(300.30 174.00) rotate(95.0) scale(0.60)"><rect x="0" y="-2.6" width="4" height="5.2" rx="1" fill="#ccc" stroke="#555" stroke-width="1"/><path d="M1.3 -2.6V2.6M2.7 -2.6V2.6" stroke="#555" stroke-width="0.6"/><rect x="4" y="-1.6" width="3.4" height="3.2" fill="#fff" stroke="#555" stroke-width="0.9"/><path d="M5.2 -1.6V1.6M6.3 -1.6V1.6" stroke="#555" stroke-width="0.5"/></g>
<g transform="translate(396.60 366.50) rotate(90.0) scale(0.65)"><rect x="0" y="-2.6" width="4" height="5.2" rx="1" fill="#ccc" stroke="#555" stroke-width="1"/><path d="M1.3 -2.6V2.6M2.7 -2.6V2.6" stroke="#555" stroke-width="0.6"/><rect x="4" y="-1.6" width="3.4" height="3.2" fill="#fff" stroke="#555" stroke-width="0.9"/><path d="M5.2 -1.6V1.6M6.3 -1.6V1.6" stroke="#555" stroke-width="0.5"/></g>
<text x="166.6" y="117.9" class="n">18</text>
<path d="M159.0 128.7L168.0 119.5" stroke="#333" stroke-width="0.9" fill="none"/>
<circle cx="159.0" cy="128.7" r="1.5" fill="#111"/>
<text x="259.0" y="125.7" class="n">15</text>
<path d="M250.5 136.0L258.0 127.5" stroke="#333" stroke-width="0.9" fill="none"/>
<circle cx="250.5" cy="136.0" r="1.5" fill="#111"/>
<text x="186.0" y="230.6" class="n">14</text>
<path d="M175.0 210.5L186.0 222.5" stroke="#333" stroke-width="0.9" fill="none"/>
<circle cx="175.0" cy="210.5" r="1.5" fill="#111"/>
<text x="109.5" y="259.0" class="n">20</text>
<path d="M114.4 289.4L114.4 260.5" stroke="#333" stroke-width="0.9" fill="none"/>
<circle cx="114.4" cy="289.4" r="1.5" fill="#111"/>
<text x="184.0" y="257.4" class="n">10</text>
<path d="M205.0 269.0L194.0 259.0" stroke="#333" stroke-width="0.9" fill="none"/>
<circle cx="205.0" cy="269.0" r="1.5" fill="#111"/>
<text x="153.3" y="307.3" class="n">11</text>
<path d="M176.4 302.6L165.0 302.6" stroke="#333" stroke-width="0.9" fill="none"/>
<circle cx="176.4" cy="302.6" r="1.5" fill="#111"/>
<text x="146.4" y="329.4" class="n">3</text>
<path d="M166.0 343.4L152.4 330.0" stroke="#333" stroke-width="0.9" fill="none"/>
<circle cx="166.0" cy="343.4" r="1.5" fill="#111"/>
<text x="215.7" y="355.0" class="n">12</text>
<path d="M204.0 336.0L215.0 347.0" stroke="#333" stroke-width="0.9" fill="none"/>
<circle cx="204.0" cy="336.0" r="1.5" fill="#111"/>
<text x="158.4" y="396.0" class="n">1</text>
<path d="M160.6 369.0L160.6 388.0" stroke="#333" stroke-width="0.9" fill="none"/>
<circle cx="160.6" cy="369.0" r="1.5" fill="#111"/>
<text x="241.0" y="270.8" class="n">17</text>
<path d="M268.0 268.0L252.4 268.0" stroke="#333" stroke-width="0.9" fill="none"/>
<circle cx="268.0" cy="268.0" r="1.5" fill="#111"/>
<text x="298.6" y="277.0" class="n">16</text>
<path d="M283.4 273.4L298.0 273.4" stroke="#333" stroke-width="0.9" fill="none"/>
<circle cx="283.4" cy="273.4" r="1.5" fill="#111"/>
<text x="405.0" y="125.0" class="n">9</text>
<path d="M429.3 119.5L413.5 119.5" stroke="#333" stroke-width="0.9" fill="none"/>
<circle cx="429.3" cy="119.5" r="1.5" fill="#111"/>
<text x="415.3" y="230.7" class="n">8</text>
<path d="M400.0 226.0L413.0 226.0" stroke="#333" stroke-width="0.9" fill="none"/>
<circle cx="400.0" cy="226.0" r="1.5" fill="#111"/>
<text x="359.8" y="285.6" class="n">7</text>
<path d="M377.0 267.0L366.0 278.0" stroke="#333" stroke-width="0.9" fill="none"/>
<circle cx="377.0" cy="267.0" r="1.5" fill="#111"/>
<text x="342.2" y="338.0" class="n">19</text>
<path d="M346.5 316.8L346.5 328.5" stroke="#333" stroke-width="0.9" fill="none"/>
<circle cx="346.5" cy="316.8" r="1.5" fill="#111"/>
<text x="250.0" y="400.7" class="n">6</text>
<path d="M266.4 383.2L257.0 393.0" stroke="#333" stroke-width="0.9" fill="none"/>
<circle cx="266.4" cy="383.2" r="1.5" fill="#111"/>
<text x="403.7" y="416.3" class="n">13</text>
<path d="M392.0 396.4L403.0 408.0" stroke="#333" stroke-width="0.9" fill="none"/>
<circle cx="392.0" cy="396.4" r="1.5" fill="#111"/>
<text x="267.7" y="451.2" class="n">5</text>
<path d="M286.0 448.0L274.4 448.0" stroke="#333" stroke-width="0.9" fill="none"/>
<circle cx="286.0" cy="448.0" r="1.5" fill="#111"/>
<text x="267.7" y="462.8" class="n">4</text>
<path d="M286.0 459.6L274.4 459.6" stroke="#333" stroke-width="0.9" fill="none"/>
<circle cx="286.0" cy="459.6" r="1.5" fill="#111"/>
<text x="385.2" y="470.0" class="n">3</text>
<path d="M368.0 466.4L384.0 466.4" stroke="#333" stroke-width="0.9" fill="none"/>
<circle cx="368.0" cy="466.4" r="1.5" fill="#111"/>
<text x="388.8" y="486.8" class="n">2</text>
<path d="M372.0 483.7L388.0 483.7" stroke="#333" stroke-width="0.9" fill="none"/>
<circle cx="372.0" cy="483.7" r="1.5" fill="#111"/>
<text x="275" y="149.3" class="c">CLUTCH PIPE</text>
<path d="M301.5 152L301.5 164" stroke="#333" stroke-width="0.9"/>
<circle cx="301.5" cy="164.5" r="1.3" fill="#111"/>
<text x="451.3" y="535.2" class="f" text-anchor="middle">E04.010</text>
<text x="451.3" y="547.6" class="f" text-anchor="middle">08-2004</text>
<text x="451.3" y="559.9" class="f" text-anchor="middle">L1</text>
<text x="451.3" y="572.2" class="f" text-anchor="middle">LH0012A</text>
<text x="229.4" y="582.3" class="f">© Copyright, 2016. Jaguar Land Rover Limited.</text>
<g transform="translate(207.6 162.0) rotate(0)"><rect x="-2.10" y="-1.70" width="4.20" height="3.40" rx="1" fill="#bbb" stroke="#1a1a1a" stroke-width="1.0"/><path d="M-2.10 -0.5H2.10 M-2.10 0.9H2.10" stroke="#1a1a1a" stroke-width="0.6"/></g>
<g transform="translate(215.6 165.2) rotate(0)"><rect x="-2.10" y="-1.70" width="4.20" height="3.40" rx="1" fill="#bbb" stroke="#1a1a1a" stroke-width="1.0"/><path d="M-2.10 -0.5H2.10 M-2.10 0.9H2.10" stroke="#1a1a1a" stroke-width="0.6"/></g>
<g transform="translate(234.3 174.0) rotate(0)"><rect x="-2.10" y="-1.70" width="4.20" height="3.40" rx="1" fill="#bbb" stroke="#1a1a1a" stroke-width="1.0"/><path d="M-2.10 -0.5H2.10 M-2.10 0.9H2.10" stroke="#1a1a1a" stroke-width="0.6"/></g>
<g transform="translate(228.8 149.3) rotate(35)"><rect x="-1.50" y="-1.50" width="3.00" height="3.00" rx="1" fill="#bbb" stroke="#1a1a1a" stroke-width="1.0"/><path d="M-1.50 -0.5H1.50 M-1.50 0.9H1.50" stroke="#1a1a1a" stroke-width="0.6"/></g>
<g transform="translate(259.8 162.8) rotate(45)"><rect x="-1.50" y="-1.50" width="3.00" height="3.00" rx="1" fill="#bbb" stroke="#1a1a1a" stroke-width="1.0"/><path d="M-1.50 -0.5H1.50 M-1.50 0.9H1.50" stroke="#1a1a1a" stroke-width="0.6"/></g>
<path d="M145.5 149.5 C150 165 170 182.5 191.3 184.5 L191.3 176 C177 169 165 157 161 145.5 Z" fill="#fff" stroke="none"/>
<path d="M145.5 149.5 C150 165 170 184.3 220 186.5" fill="none" stroke="#2a2a2a" stroke-width="0.85" stroke-linecap="round" stroke-linejoin="round" />
<path d="M155 149 C158 160 168 180 220 186.5" fill="none" stroke="#2a2a2a" stroke-width="0.85" stroke-linecap="round" stroke-linejoin="round" />
<path d="M154.5 148.5 C162 162 176 172 194.5 177.5" fill="none" stroke="#2a2a2a" stroke-width="0.85" stroke-linecap="round" stroke-linejoin="round" />
<path d="M161 145.5 C165 157 177 170 194.5 177.5" fill="none" stroke="#2a2a2a" stroke-width="0.85" stroke-linecap="round" stroke-linejoin="round" />
<path d="M211.6 257 C214 243 224 228 238 216.5" fill="none" stroke="#2a2a2a" stroke-width="0.85" stroke-linecap="round" stroke-linejoin="round" />
<path d="M222 259 C222 245 228 228 238 216.5" fill="none" stroke="#2a2a2a" stroke-width="0.85" stroke-linecap="round" stroke-linejoin="round" />
<path d="M265.7 297 C270 309 272.5 330 267.7 347" fill="none" stroke="#2a2a2a" stroke-width="0.85" stroke-linecap="round" stroke-linejoin="round" />
<path d="M265.7 297 C273 309 277.5 330 277.4 347" fill="none" stroke="#2a2a2a" stroke-width="0.85" stroke-linecap="round" stroke-linejoin="round" />
<path d="M237.7 317 L267.7 347" fill="none" stroke="#2a2a2a" stroke-width="0.85" stroke-linecap="round" stroke-linejoin="round" />
<path d="M237.7 317 C250 330 258 344 261.7 356.3" fill="none" stroke="#2a2a2a" stroke-width="0.85" stroke-linecap="round" stroke-linejoin="round" />
<path d="M306 368 C335 360 385 354 407 365" fill="none" stroke="#2a2a2a" stroke-width="0.85" stroke-linecap="round" stroke-linejoin="round" />
<path d="M317 375 C345 362 385 356 407 365" fill="none" stroke="#2a2a2a" stroke-width="0.85" stroke-linecap="round" stroke-linejoin="round" />
<path d="M317 375 C340 380 365 388 380 395" fill="none" stroke="#2a2a2a" stroke-width="0.85" stroke-linecap="round" stroke-linejoin="round" />
<path d="M310 384 C335 384 360 387 380 395" fill="none" stroke="#2a2a2a" stroke-width="0.85" stroke-linecap="round" stroke-linejoin="round" />
<path d="M304.2 211.7 C325 211 343 215 356.7 221.7" fill="none" stroke="#2a2a2a" stroke-width="0.85" stroke-linecap="round" stroke-linejoin="round" />
<path d="M304.2 211.7 C328 214 345 224 356.7 235" fill="none" stroke="#2a2a2a" stroke-width="0.85" stroke-linecap="round" stroke-linejoin="round" />
<path d="M267 250.8 C300 248 328 262 341.7 284.2" fill="none" stroke="#2a2a2a" stroke-width="0.85" stroke-linecap="round" stroke-linejoin="round" />
<path d="M267 251.4 C296 250 316 264 326.7 285.8" fill="none" stroke="#2a2a2a" stroke-width="0.85" stroke-linecap="round" stroke-linejoin="round" />
<path d="M361.7 174.7 C380 157 400 147 418.3 142.5" fill="none" stroke="#2a2a2a" stroke-width="0.85" stroke-linecap="round" stroke-linejoin="round" />
<path d="M361.7 174.7 C385 163 402 157 419.2 153.3" fill="none" stroke="#2a2a2a" stroke-width="0.85" stroke-linecap="round" stroke-linejoin="round" />
<path d="M418.3 202.5 C412 185 413 168 419.2 153.3" fill="none" stroke="#2a2a2a" stroke-width="0.85" stroke-linecap="round" stroke-linejoin="round" />
<path d="M418.3 202.5 C418 185 421 172 428.3 158.3" fill="none" stroke="#2a2a2a" stroke-width="0.85" stroke-linecap="round" stroke-linejoin="round" />
<path d="M306 448 C318 452.5 335 453 348.7 448" fill="none" stroke="#2a2a2a" stroke-width="0.85" stroke-linecap="round" stroke-linejoin="round" />
<path d="M307 457 C322 456 338 452.5 348.7 448" fill="none" stroke="#2a2a2a" stroke-width="0.85" stroke-linecap="round" stroke-linejoin="round" />
<path d="M307 457 C323 459 340 465 351.3 472.7" fill="none" stroke="#2a2a2a" stroke-width="0.85" stroke-linecap="round" stroke-linejoin="round" />
<path d="M304 462.4 C322 463.5 340 467 351.3 472.7" fill="none" stroke="#2a2a2a" stroke-width="0.85" stroke-linecap="round" stroke-linejoin="round" />
<path d="M116 319.7 C124 335 140 346 154.5 349" fill="none" stroke="#2a2a2a" stroke-width="0.85" stroke-linecap="round" stroke-linejoin="round" />
<path d="M122.7 315.7 C128 330 142 343 154.5 349" fill="none" stroke="#2a2a2a" stroke-width="0.85" stroke-linecap="round" stroke-linejoin="round" />
</g>
</svg>
</body></html>
